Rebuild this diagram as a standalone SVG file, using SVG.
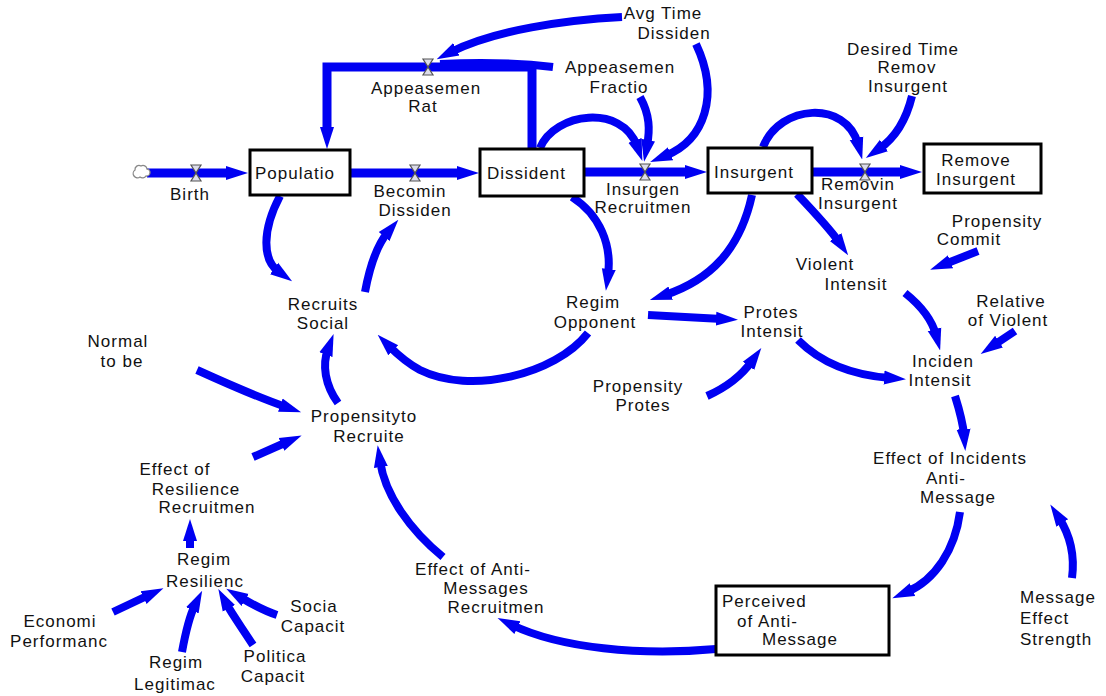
<svg xmlns="http://www.w3.org/2000/svg" width="1106" height="696" viewBox="0 0 1106 696">
  <style>
    text { font-family: "Liberation Sans", Arial, sans-serif; font-size: 17px; letter-spacing: 1px; fill: #111; }
    .c { text-anchor: middle; }
    .stock { fill: #fff; stroke: #000; stroke-width: 3; }
    .link { fill: none; stroke: #0000f2; stroke-width: 8; marker-end: url(#ah); }
    .plain { fill: none; stroke: #0000f2; stroke-width: 8; }
    .pipe { fill: none; stroke: #0000f2; stroke-width: 9; stroke-linejoin: miter; }
    .valve { fill: #dcdcea; stroke: #555; stroke-width: 1.2; }
  </style>
  <defs>
    <marker id="ah" markerUnits="userSpaceOnUse" viewBox="0 0 22 16" markerWidth="22" markerHeight="16" refX="6" refY="8" orient="auto">
      <path d="M0,1 L22,8 L0,15 z" fill="#0000f2"/>
    </marker>
    <path id="hourglass" d="M-5,-8 L5,-8 L-5,8 L5,8 z"/>
  </defs>

  <rect width="1106" height="696" fill="#fff"/>

  <!-- material flows (pipes) -->
  <g id="flows">
    <path class="pipe" d="M147,173 H232" marker-end="url(#ah)"/>
    <path class="pipe" d="M350,173 H463" marker-end="url(#ah)"/>
    <path class="pipe" d="M584,172 H691" marker-end="url(#ah)"/>
    <path class="pipe" d="M812,172 H906" marker-end="url(#ah)"/>
    <path class="pipe" d="M532,149 V67 H327 V133" marker-end="url(#ah)"/>
  </g>

  <!-- information links -->
  <g id="connectors">
    <path class="link" d="M622,17 C565,20 495,30 451,52"/>
    <path class="plain" d="M553,67 C520,63 480,62 440,64"/>
    <path class="link" d="M696,44 C720,95 705,140 665,156"/>
    <path class="link" d="M640,97 C650,115 650,130 647,146"/>
    <path class="link" d="M540,148 C555,112 622,104 637,146"/>
    <path class="link" d="M763,147 C780,104 846,100 858,144"/>
    <path class="link" d="M912,96 C905,125 892,140 879,149"/>
    <path class="link" d="M572,197 C600,215 612,245 608,275"/>
    <path class="link" d="M752,195 C740,250 710,280 665,295"/>
    <path class="link" d="M797,194 C815,213 830,229 839,242"/>
    <path class="link" d="M280,196 C262,230 262,260 279,272"/>
    <path class="link" d="M365,292 C370,265 377,245 388,232"/>
    <path class="link" d="M588,333 C555,375 470,395 420,370 C405,362 395,352 389,346"/>
    <path class="link" d="M338,403 C325,385 322,365 328,349"/>
    <path class="link" d="M197,370 C230,385 260,398 286,407"/>
    <path class="link" d="M253,457 L287,442"/>
    <path class="link" d="M443,557 C410,530 385,495 380,461"/>
    <path class="link" d="M190,548 L190,535"/>
    <path class="link" d="M113,612 L149,595"/>
    <path class="link" d="M182,652 C186,630 190,615 195,605"/>
    <path class="link" d="M253,645 C240,625 232,614 226,603"/>
    <path class="link" d="M277,615 C262,610 250,603 240,597"/>
    <path class="link" d="M716,649 C640,656 560,648 512,625"/>
    <path class="link" d="M960,512 C955,550 935,580 907,592"/>
    <path class="link" d="M1072,578 C1075,555 1070,535 1059,518"/>
    <path class="link" d="M955,396 C960,412 963,423 964,435"/>
    <path class="link" d="M798,340 C820,362 850,375 890,378"/>
    <path class="link" d="M707,396 C725,388 742,375 752,361"/>
    <path class="link" d="M648,315 L722,319"/>
    <path class="link" d="M905,293 C920,305 932,320 936,335"/>
    <path class="link" d="M978,251 L945,264"/>
    <path class="link" d="M1015,331 L994,345"/>
  </g>

  <!-- source cloud -->
  <g id="source">
    <path d="M135,170 a4,4 0 0 1 6,-4 a4,4 0 0 1 6,3 a3.5,3.5 0 0 1 -1,7 a4,4 0 0 1 -6,1 a4,4 0 0 1 -5,-7 z" fill="#fff" stroke="#888" stroke-width="1.3"/>
  </g>

  <!-- stocks -->
  <g id="populatio"><rect class="stock" x="250" y="150" width="100" height="45"/><text x="255" y="179">Populatio</text></g>
  <g id="dissident"><rect class="stock" x="480" y="149" width="104" height="47"/><text x="487" y="179">Dissident</text></g>
  <g id="insurgent"><rect class="stock" x="708" y="148" width="104" height="45"/><text x="714" y="178">Insurgent</text></g>
  <g id="remove-insurgent"><rect class="stock" x="924" y="144" width="117" height="49" stroke-width="4"/><text class="c" x="976" y="166">Remove</text><text class="c" x="976" y="185">Insurgent</text></g>
  <g id="perceived-anti-message"><rect class="stock" x="716" y="586" width="173" height="69"/><text x="722" y="607">Perceived</text><text x="737" y="627">of Anti-</text><text x="762" y="645">Message</text></g>

  <!-- rates -->
  <g id="birth"><use href="#hourglass" x="196" y="173" class="valve"/><text class="c" x="190" y="200">Birth</text></g>
  <g id="becomin-dissiden"><use href="#hourglass" x="415" y="173" class="valve"/><text class="c" x="410" y="197">Becomin</text><text class="c" x="415" y="216">Dissiden</text></g>
  <g id="insurgen-recruitmen"><use href="#hourglass" x="645" y="172" class="valve"/><text class="c" x="643" y="195">Insurgen</text><text class="c" x="643" y="213">Recruitmen</text></g>
  <g id="removin-insurgent"><use href="#hourglass" x="865" y="172" class="valve"/><text class="c" x="858" y="190">Removin</text><text class="c" x="858" y="209">Insurgent</text></g>
  <g id="appeasemen-rat"><use href="#hourglass" x="428" y="67" class="valve"/><text class="c" x="426" y="94">Appeasemen</text><text class="c" x="423" y="112">Rat</text></g>

  <!-- auxiliaries -->
  <g id="avg-time-dissiden"><text class="c" x="663" y="19">Avg Time</text><text class="c" x="674" y="39">Dissiden</text></g>
  <g id="appeasemen-fractio"><text class="c" x="620" y="73">Appeasemen</text><text class="c" x="619" y="93">Fractio</text></g>
  <g id="desired-time-remov"><text class="c" x="903" y="55">Desired Time</text><text class="c" x="907" y="73">Remov</text><text class="c" x="908" y="92">Insurgent</text></g>
  <g id="propensity-commit"><text class="c" x="997" y="227">Propensity</text><text class="c" x="969" y="245">Commit</text></g>
  <g id="violent-intensit"><text class="c" x="825" y="270">Violent</text><text class="c" x="856" y="290">Intensit</text></g>
  <g id="relative-violent"><text class="c" x="1011" y="307">Relative</text><text class="c" x="1008" y="326">of Violent</text></g>
  <g id="recruits-social"><text class="c" x="323" y="310">Recruits</text><text class="c" x="323" y="329">Social</text></g>
  <g id="regim-opponent"><text class="c" x="593" y="308">Regim</text><text class="c" x="595" y="328">Opponent</text></g>
  <g id="protes-intensit"><text class="c" x="771" y="318">Protes</text><text class="c" x="772" y="337">Intensit</text></g>
  <g id="normal-to-be"><text class="c" x="118" y="347">Normal</text><text class="c" x="122" y="367">to be</text></g>
  <g id="propensity-protes"><text class="c" x="638" y="392">Propensity</text><text class="c" x="643" y="411">Protes</text></g>
  <g id="inciden-intensit"><text class="c" x="943" y="367">Inciden</text><text class="c" x="940" y="386">Intensit</text></g>
  <g id="propensity-recruite"><text class="c" x="364" y="422">Propensityto</text><text class="c" x="369" y="442">Recruite</text></g>
  <g id="effect-resilience"><text class="c" x="175" y="475">Effect of</text><text class="c" x="196" y="495">Resilience</text><text class="c" x="207" y="513">Recruitmen</text></g>
  <g id="effect-incidents"><text class="c" x="950" y="464">Effect of Incidents</text><text class="c" x="946" y="484">Anti-</text><text class="c" x="958" y="503">Message</text></g>
  <g id="regim-resilienc"><text class="c" x="204" y="565">Regim</text><text class="c" x="205" y="587">Resilienc</text></g>
  <g id="effect-anti-messages"><text class="c" x="473" y="575">Effect of Anti-</text><text class="c" x="486" y="594">Messages</text><text class="c" x="496" y="613">Recruitmen</text></g>
  <g id="economi-performanc"><text class="c" x="60" y="627">Economi</text><text class="c" x="59" y="647">Performanc</text></g>
  <g id="socia-capacit"><text class="c" x="314" y="612">Socia</text><text class="c" x="313" y="632">Capacit</text></g>
  <g id="regim-legitimac"><text class="c" x="176" y="668">Regim</text><text class="c" x="175" y="690">Legitimac</text></g>
  <g id="politica-capacit"><text class="c" x="275" y="662">Politica</text><text class="c" x="273" y="682">Capacit</text></g>
  <g id="message-effect-strength"><text x="1020" y="603">Message</text><text x="1020" y="624">Effect</text><text x="1020" y="645">Strength</text></g>
</svg>
